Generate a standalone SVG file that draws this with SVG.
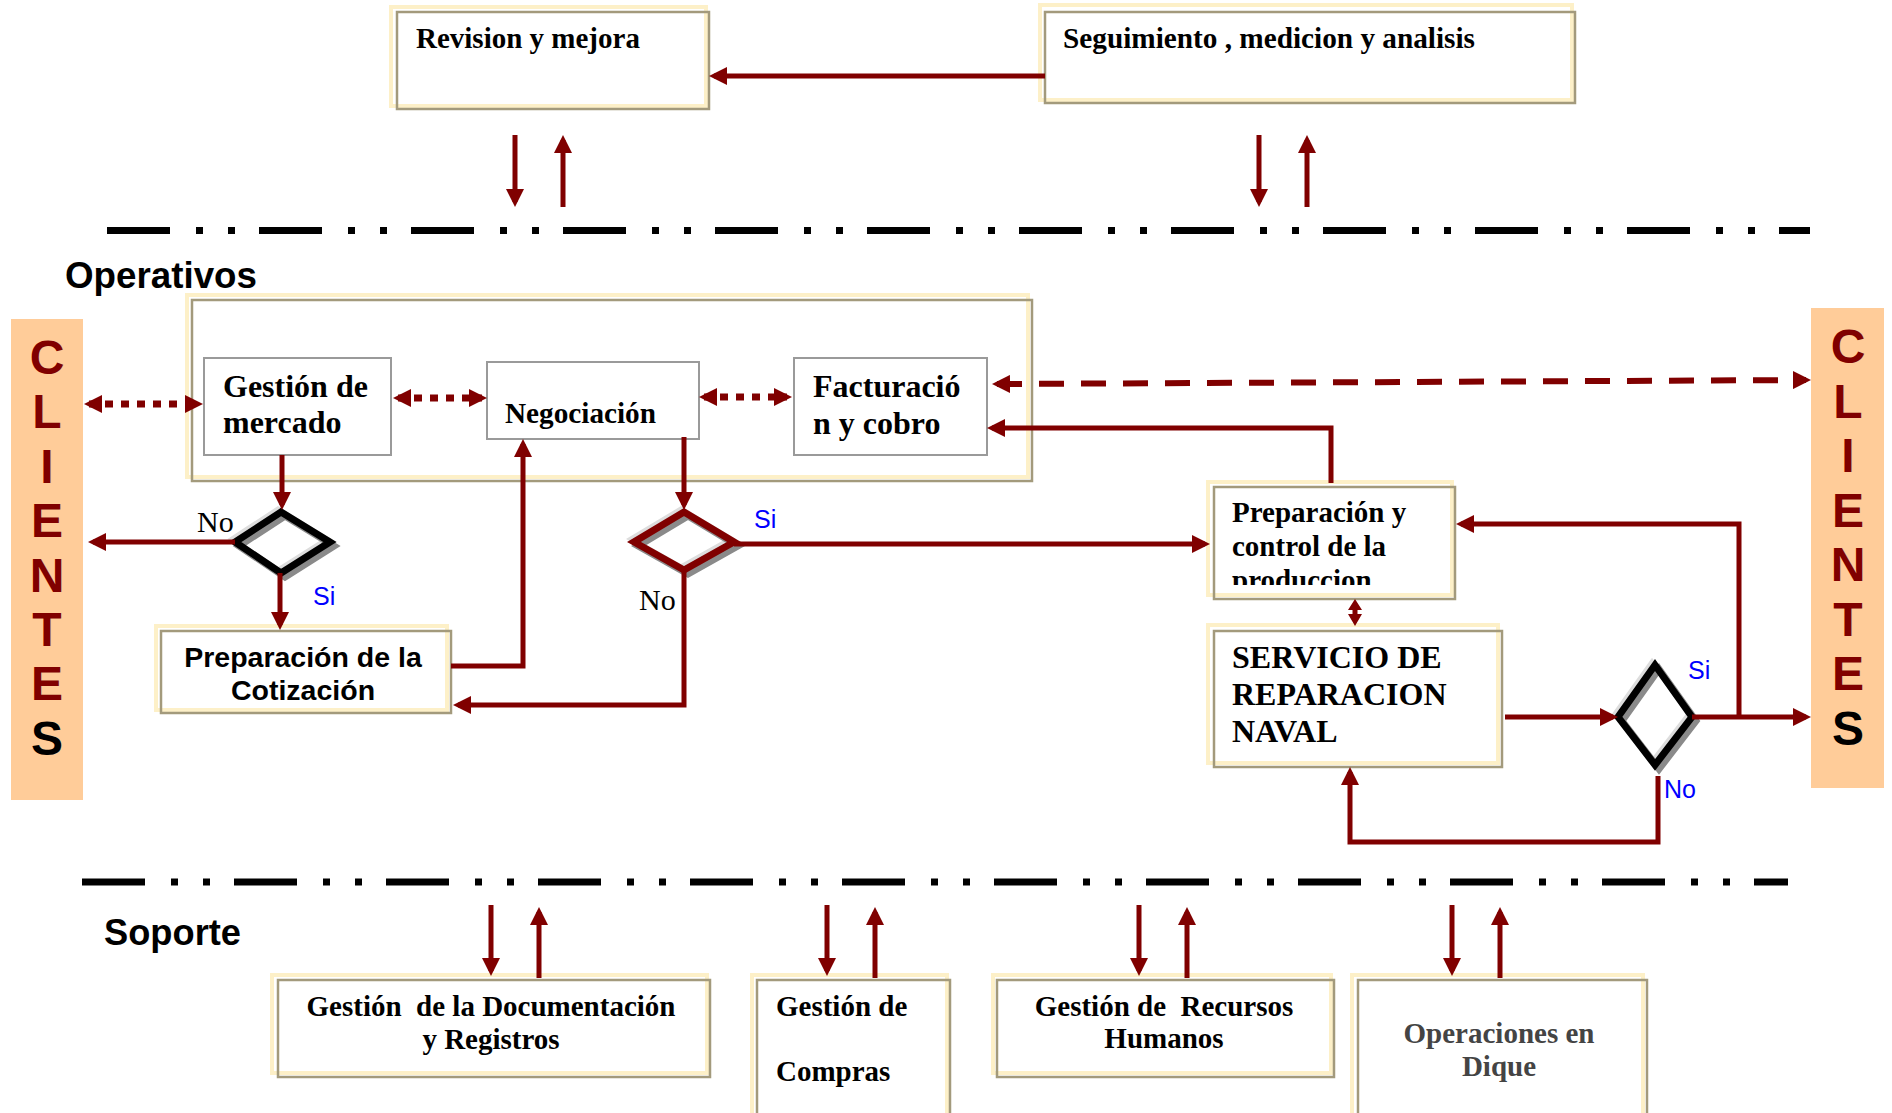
<svg xmlns="http://www.w3.org/2000/svg" width="1892" height="1113" viewBox="0 0 1892 1113">
<style>
.bg{fill:#ffffff}
.cream{fill:#ffffff;stroke:#fdf0c8;stroke-width:4}
.tan{fill:none;stroke:#a39a7c;stroke-width:2.5}
.gray{fill:#ffffff;stroke:#9a9a9a;stroke-width:2}
.t{font-family:"Liberation Serif","Times New Roman",serif;font-weight:bold;font-size:29px;fill:#000}
.t32{font-size:32px}
.reg{font-family:"Liberation Serif","Times New Roman",serif;font-size:30px;fill:#000}
.a{font-family:"Liberation Sans",Arial,sans-serif;font-weight:bold;fill:#000}
.lbl{font-family:"Liberation Sans",Arial,sans-serif;font-size:25px;fill:#0000ff}
.cl{font-family:"Liberation Sans",Arial,sans-serif;font-weight:bold;font-size:48px;fill:#800000;text-anchor:middle}
.c{fill:none;stroke:#800000;stroke-width:5;stroke-linejoin:miter}
.ar{marker-end:url(#ah)}
.dot{fill:none;stroke:#800000;stroke-width:7;stroke-dasharray:8 8;marker-start:url(#ah);marker-end:url(#ah)}
.dash{fill:none;stroke:#800000;stroke-width:6;stroke-dasharray:25 17;marker-start:url(#ah);marker-end:url(#ah)}
.sep{fill:none;stroke:#000;stroke-width:7;stroke-dasharray:63 26 7 25 7 24}
.dia{fill:none;stroke-width:7;stroke-linejoin:miter}
.shadow{fill:none;stroke:#8a8a8a;stroke-width:7}
.hl{fill:none;stroke:#dddddd;stroke-width:5}
</style>
<defs>
<marker id="ah" viewBox="0 0 18 18" refX="13" refY="9" markerWidth="18" markerHeight="18" markerUnits="userSpaceOnUse" orient="auto-start-reverse">
<path d="M0,0 L18,9 L0,18 Z" fill="#800000"/>
</marker>
<clipPath id="prepclip"><rect x="1214" y="487" width="241" height="98"/></clipPath>
</defs>
<rect class="bg" x="0" y="0" width="1892" height="1113"/>

<g id="separators">
<path class="sep" d="M107,230.5 H1810"/>
<path class="sep" d="M82,882 H1788"/>
</g>

<g id="lbl-operativos"><text class="a" x="65" y="288" font-size="36" textLength="192" lengthAdjust="spacingAndGlyphs">Operativos</text></g>
<g id="lbl-soporte"><text class="a" x="104" y="945" font-size="36" textLength="137" lengthAdjust="spacingAndGlyphs">Soporte</text></g>

<g id="clientes-left">
<rect x="11" y="319" width="72" height="481" fill="#ffcc99"/>
<text class="cl" x="47" y="374">C</text>
<text class="cl" x="47" y="428.4">L</text>
<text class="cl" x="47" y="482.8">I</text>
<text class="cl" x="47" y="537.2">E</text>
<text class="cl" x="47" y="591.6">N</text>
<text class="cl" x="47" y="646">T</text>
<text class="cl" x="47" y="700.4">E</text>
<text class="cl" x="47" y="755" fill="#000" style="fill:#000">S</text>
</g>

<g id="clientes-right">
<rect x="1811" y="308" width="73" height="480" fill="#ffcc99"/>
<text class="cl" x="1848" y="363">C</text>
<text class="cl" x="1848" y="417.5">L</text>
<text class="cl" x="1848" y="472">I</text>
<text class="cl" x="1848" y="526.5">E</text>
<text class="cl" x="1848" y="581">N</text>
<text class="cl" x="1848" y="635.5">T</text>
<text class="cl" x="1848" y="690">E</text>
<text class="cl" x="1848" y="744.5" style="fill:#000">S</text>
</g>

<g id="revision">
<rect class="cream" x="391" y="7" width="315" height="99"/>
<rect class="tan" x="397" y="12" width="312" height="97"/>
<text class="t" x="416" y="48">Revision y mejora</text>
</g>

<g id="seguimiento">
<rect class="cream" x="1040" y="5" width="532" height="95"/>
<rect class="tan" x="1045" y="12" width="530" height="91"/>
<text class="t" x="1063" y="48" textLength="412" lengthAdjust="spacingAndGlyphs">Seguimiento , medicion y analisis</text>
</g>

<g id="operativos-container">
<rect class="cream" x="187" y="295" width="841" height="182"/>
<rect class="tan" x="192" y="300" width="840" height="181"/>
</g>

<g id="gestion-mercado">
<rect class="gray" x="204" y="358" width="187" height="97"/>
<text class="t t32" x="223" y="397">Gestión de</text>
<text class="t t32" x="223" y="433">mercado</text>
</g>

<g id="negociacion">
<rect class="gray" x="487" y="362" width="212" height="77"/>
<text class="t" x="505" y="423" font-size="30" style="font-size:30px" textLength="151" lengthAdjust="spacingAndGlyphs">Negociación</text>
</g>

<g id="facturacion">
<rect class="gray" x="794" y="358" width="193" height="97"/>
<text class="t t32" x="813" y="397">Facturació</text>
<text class="t t32" x="813" y="434">n y cobro</text>
</g>

<g id="cotizacion">
<rect class="cream" x="156" y="626" width="291" height="84"/>
<rect class="tan" x="161" y="631" width="290" height="82"/>
<text class="a" x="303" y="667" font-size="28.5" text-anchor="middle">Preparación de la</text>
<text class="a" x="303" y="700" font-size="28.5" text-anchor="middle">Cotización</text>
</g>

<g id="preparacion-produccion">
<rect class="cream" x="1208" y="482" width="244" height="113"/>
<rect class="tan" x="1214" y="487" width="241" height="112"/>
<text class="t" x="1232" y="522">Preparación y</text>
<text class="t" x="1232" y="556">control de la</text>
<text class="t" x="1232" y="590" clip-path="url(#prepclip)">produccion</text>
</g>

<g id="servicio">
<rect class="cream" x="1208" y="625" width="290" height="138"/>
<rect class="tan" x="1214" y="631" width="288" height="136"/>
<text class="t t32" x="1232" y="668">SERVICIO DE</text>
<text class="t t32" x="1232" y="705">REPARACION</text>
<text class="t t32" x="1232" y="742">NAVAL</text>
</g>

<g id="decision-1">
<polygon class="hl" points="278,509 327,539 278,570 232,539"/>
<polygon class="shadow" points="285,516 334,546 285,577 239,546"/>
<polygon class="dia" stroke="#000" points="281,512 330,542 281,573 235,542"/>
<text class="reg" x="197" y="532">No</text>
<text class="lbl" x="313" y="605">Si</text>
</g>

<g id="decision-2">
<polygon class="hl" points="681,509 731,539 681,567 631,539"/>
<polygon class="shadow" points="688,516 738,546 688,574 638,546"/>
<polygon class="dia" stroke="#800000" points="684,512 734,542 684,570 634,542"/>
<text class="reg" x="639" y="610">No</text>
<text class="lbl" x="754" y="528">Si</text>
</g>

<g id="decision-3">
<polygon class="hl" points="1652,662 1689,714 1652,762 1615,714"/>
<polygon class="shadow" points="1659,669 1696,721 1659,769 1622,721"/>
<polygon class="dia" stroke="#000" points="1655,665 1692,717 1655,765 1618,717"/>
<text class="lbl" x="1688" y="679">Si</text>
<text class="lbl" x="1664" y="798">No</text>
</g>

<g id="doc-registros">
<rect class="cream" x="272" y="975" width="435" height="98"/>
<rect class="tan" x="278" y="980" width="432" height="97"/>
<text class="t" x="491" y="1016" text-anchor="middle" xml:space="preserve">Gestión  de la Documentación</text>
<text class="t" x="491" y="1049" text-anchor="middle">y Registros</text>
</g>

<g id="compras">
<rect class="cream" x="752" y="975" width="195" height="150"/>
<rect class="tan" x="757" y="980" width="193" height="150"/>
<text class="t" x="776" y="1016">Gestión de</text>
<text class="t" x="776" y="1081">Compras</text>
</g>

<g id="rrhh">
<rect class="cream" x="993" y="975" width="338" height="98"/>
<rect class="tan" x="997" y="980" width="337" height="97"/>
<text class="t" x="1164" y="1016" text-anchor="middle" xml:space="preserve">Gestión de  Recursos</text>
<text class="t" x="1164" y="1048" text-anchor="middle">Humanos</text>
</g>

<g id="dique">
<rect class="cream" x="1352" y="975" width="291" height="150"/>
<rect class="tan" x="1358" y="980" width="289" height="150"/>
<text class="t" x="1499" y="1043" text-anchor="middle" style="fill:#444">Operaciones en</text>
<text class="t" x="1499" y="1076" text-anchor="middle" style="fill:#444">Dique</text>
</g>

<g id="connectors">
<path class="c ar" d="M1045,76 H714"/>
<path class="c ar" d="M515,135 V202"/>
<path class="c ar" d="M563,207 V140"/>
<path class="c ar" d="M1259,135 V202"/>
<path class="c ar" d="M1307,207 V140"/>
<path class="dot" d="M89,404 H198"/>
<path class="dot" d="M398,398 H482"/>
<path class="dot" d="M704,397 H787"/>
<path class="dash" d="M997,384 L1806,380"/>
<path class="c ar" d="M282,455 V505"/>
<path class="c ar" d="M235,542 H93"/>
<path class="c ar" d="M280,573 V625"/>
<path class="c ar" d="M451,666 H523 V444"/>
<path class="c ar" d="M684,437 V505"/>
<path class="c ar" d="M684,570 V705 H458"/>
<path class="c ar" d="M734,544 H1205"/>
<path class="c ar" d="M1331,483 V428 H992"/>
<path class="c ar" d="M1739,717 V524 H1461"/>
<path class="c ar" d="M1505,717 H1613"/>
<path class="c ar" d="M1692,717 H1806"/>
<path class="c ar" d="M1658,776 V842 H1350 V772"/>
<path fill="#800000" d="M1355,599 L1362,610 L1357.5,610 L1357.5,614 L1362,614 L1355,626 L1348,614 L1352.5,614 L1352.5,610 L1348,610 Z"/>
<path class="c ar" d="M491,905 V971"/>
<path class="c ar" d="M539,978 V912"/>
<path class="c ar" d="M827,905 V971"/>
<path class="c ar" d="M875,978 V912"/>
<path class="c ar" d="M1139,905 V971"/>
<path class="c ar" d="M1187,978 V912"/>
<path class="c ar" d="M1452,905 V971"/>
<path class="c ar" d="M1500,978 V912"/>
</g>
</svg>
